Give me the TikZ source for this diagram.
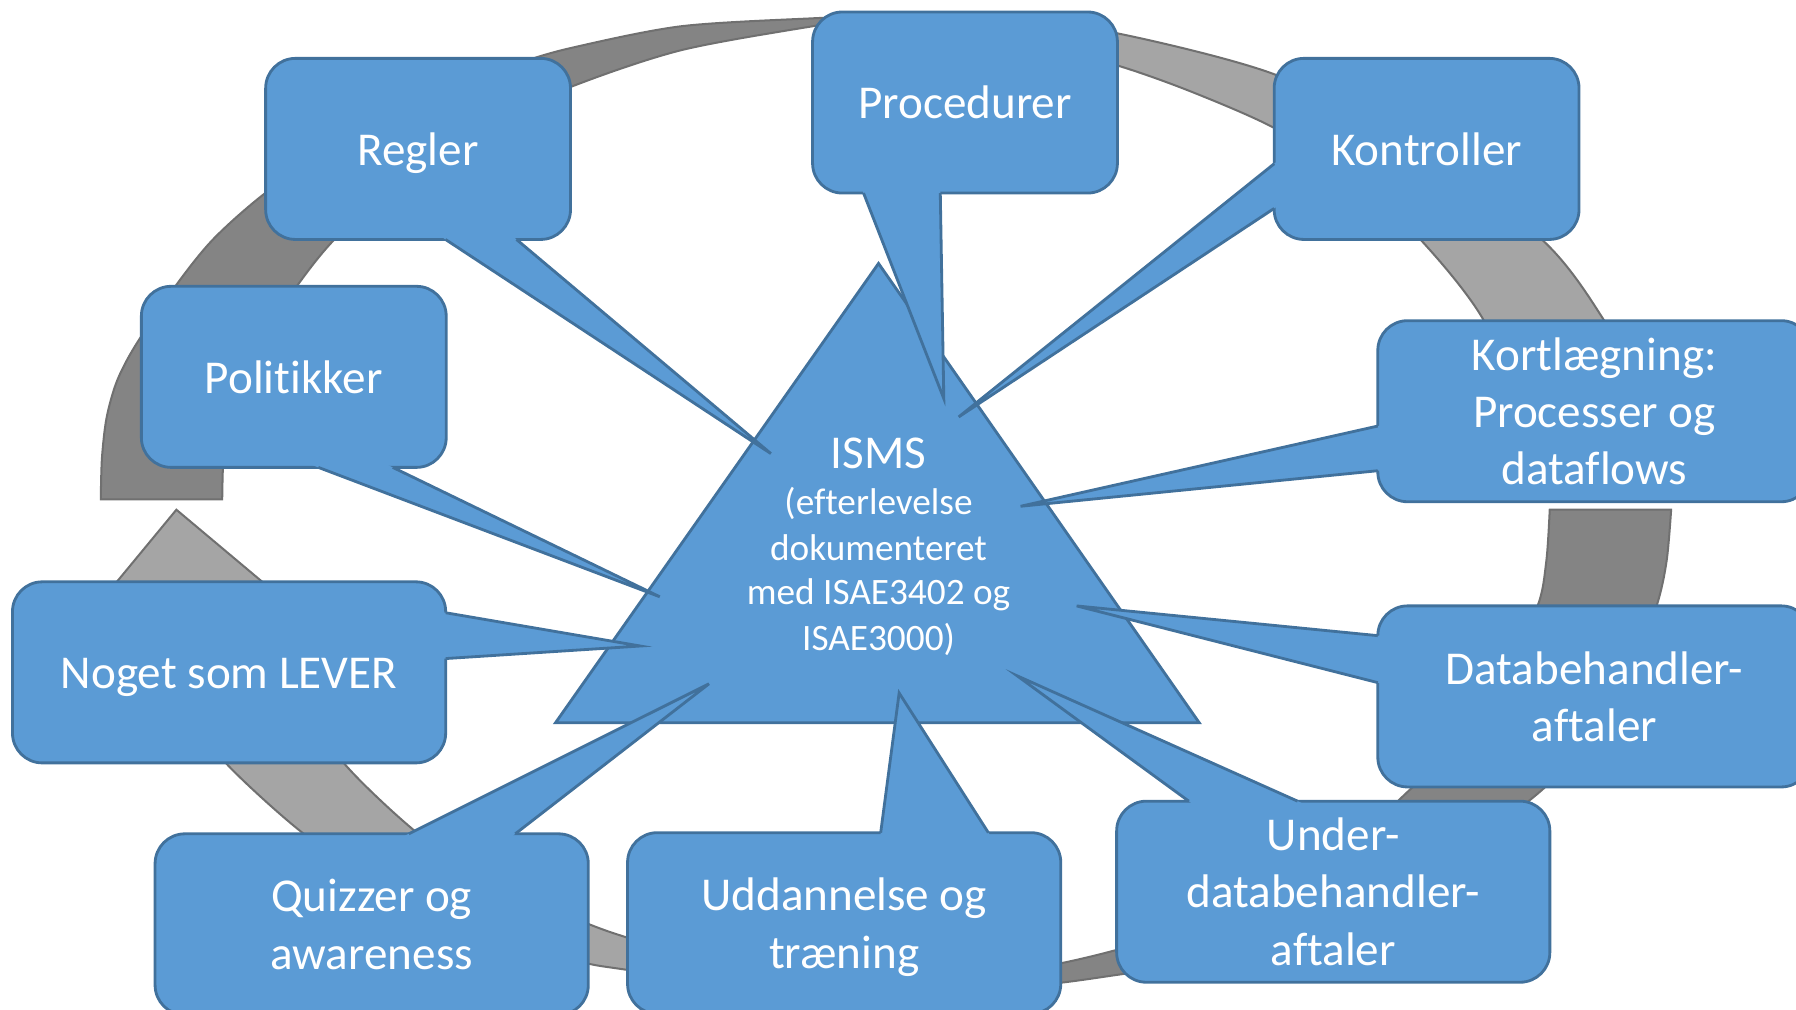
\documentclass[tikz,border=0pt]{standalone}
\usepackage{fontspec}
\setmainfont{Carlito}[Ligatures=NoCommon]
\usetikzlibrary{calc}
\definecolor{bfillc}{RGB}{91,155,213}
\definecolor{blinec}{RGB}{65,113,156}
\definecolor{darkarc}{RGB}{132,132,132}
\definecolor{lightarc}{RGB}{165,165,165}
\definecolor{arcline}{RGB}{112,112,112}
\newcommand{\bs}{\rule[-3.07pt]{0pt}{14.2pt}}
\newcommand{\calltail}[3]{%
  \fill[tailfill] (#3) -- ($(#1)!-2pt!(#3)$) -- ($(#2)!-2pt!(#3)$) -- cycle;
  \draw[tailline] (#1) -- (#3) -- (#2);}
\begin{document}
\begin{tikzpicture}[x=0.01cm, y=-0.01cm,
  box/.style={draw=blinec, fill=bfillc, line width=0.7pt, rounded corners=0.26cm,
    inner sep=0pt, outer sep=0pt, align=center, text=white,
    font=\fontsize{11.7pt}{14.2pt}\selectfont},
  smallbox/.style={box, minimum width=2.66cm, minimum height=1.58cm},
  bigbox/.style={box, minimum width=3.78cm, minimum height=1.58cm},
  tailfill/.style={fill=bfillc},
  tailline/.style={draw=blinec, line width=0.7pt},
  darkband/.style={fill=darkarc, draw=arcline, line width=0.5pt},
  lightband/.style={fill=lightarc, draw=arcline, line width=0.5pt},
  bigtxt/.style={text=white, inner sep=0pt, anchor=base, font=\fontsize{11.7pt}{14.2pt}\selectfont},
  smalltxt/.style={text=white, inner sep=0pt, anchor=base, font=\fontsize{9.25pt}{11.1pt}\selectfont},
]
\useasboundingbox (0,0) rectangle (1568,881);
\clip (0,0) rectangle (1568,881);

% ---- cycle bands ----
\filldraw[darkband] plot[smooth] coordinates {(88,436) (89,400) (93,365) (102,333) (118,302) (153,250) (186,209) (231,169) (300,120) (380,80) (450,56) (498,42) (594,23) (709,16) (775,14)}
  -- plot[smooth] coordinates {(775,14) (709,23) (594,44) (498,76) (420,112) (350,155) (292,209) (259,250) (224,302) (208,333) (199,365) (195,400) (194,436)} -- cycle;
\filldraw[lightband] plot[smooth] coordinates {(770,14) (830,17) (900,22) (975,29) (1113,65) (1230,125) (1346,209) (1400,279) (1430,340) (1446,395) (1451,425)}
  -- plot[smooth] coordinates {(1345,425) (1332,370) (1295,279) (1240,209) (1180,155) (1113,112) (1040,80) (975,57) (900,38) (830,22) (770,14)} -- cycle;
\filldraw[darkband] plot[smooth] coordinates {(1459,445) (1455,490) (1446,530) (1420,600) (1385,650) (1340,695) (1270,745) (1190,790) (1100,825) (1030,843) (976,851) (926,858) (850,866) (770,870)}
  -- plot[smooth] coordinates {(770,870) (850,855) (926,841) (976,829) (1040,810) (1110,780) (1170,745) (1225,695) (1270,650) (1310,590) (1342,530) (1350,490) (1353,445)} -- cycle;
\filldraw[lightband] plot[smooth] coordinates {(740,872) (650,863) (549,847) (512,841) (450,825) (390,801) (330,770) (264,727) (197,666) (160,615) (140,560)}
  -- (59,560) -- (154,445) -- (291,560)
  -- plot[smooth] coordinates {(245,560) (265,610) (300,666) (364,727) (430,772) (512,806) (549,819) (620,840) (690,858) (740,872)} -- cycle;

% ---- central triangle ----
\coordinate (triA) at (767,230);
\coordinate (triB) at (485,631);
\coordinate (triC) at (1047,631);
\filldraw[fill=bfillc, draw=blinec, line width=0.7pt] (triA) -- (triB) -- (triC) -- cycle;

% ---- callouts ----
\node[smallbox] (regler) at (365,130) {\bs Regler};
\coordinate (reglerA) at ($(regler.south west)+(157,0)$);
\coordinate (reglerB) at ($(regler.south west)+(219,0)$);
\coordinate (reglerT) at (673,396);
\calltail{reglerA}{reglerB}{reglerT}

\node[smallbox] (proc) at (842.5,89.5) {\bs Procedurer};
\coordinate (procA) at ($(proc.south west)+(44.5,0)$);
\coordinate (procB) at ($(proc.south west)+(111.5,0)$);
\coordinate (procT) at (824,348);
\calltail{procA}{procB}{procT}

\node[smallbox] (kont) at (1245.5,130) {\bs Kontroller};
\coordinate (kontA) at ($(kont.north west)+(0,92)$);
\coordinate (kontB) at ($(kont.north west)+(0,131)$);
\coordinate (kontT) at (837,364);
\calltail{kontA}{kontB}{kontT}

\node[smallbox] (poli) at (256.5,329) {\bs Politikker};
\coordinate (poliA) at ($(poli.south west)+(154.5,0)$);
\coordinate (poliB) at ($(poli.south west)+(219.5,0)$);
\coordinate (poliT) at (576,521);
\calltail{poliA}{poliB}{poliT}

\node[bigbox] (kort) at (1392,359) {\bs Kortlægning:\\\bs Processer og\\\bs dataflows};
\coordinate (kortA) at ($(kort.north west)+(0,92)$);
\coordinate (kortB) at ($(kort.north west)+(0,131)$);
\coordinate (kortT) at (891,442);
\calltail{kortA}{kortB}{kortT}

\node[bigbox] (data) at (1392,608) {\bs Databehandler-\\\bs aftaler};
\coordinate (dataA) at ($(data.north west)+(0,26)$);
\coordinate (dataB) at ($(data.north west)+(0,67)$);
\coordinate (dataT) at (940,529);
\calltail{dataA}{dataB}{dataT}

\node[bigbox] (under) at (1164,778.5) {\bs Under-\\\bs databehandler-\\\bs aftaler};
\coordinate (underA) at ($(under.north west)+(63,0)$);
\coordinate (underB) at ($(under.north west)+(158,0)$);
\coordinate (underT) at (888,590);
\calltail{underA}{underB}{underT}

\node[bigbox] (udd) at (737,806) {\bs Uddannelse og\\\bs træning};
\coordinate (uddA) at ($(udd.north west)+(221,0)$);
\coordinate (uddB) at ($(udd.north west)+(315,0)$);
\coordinate (uddT) at (785,605);
\calltail{uddA}{uddB}{uddT}

\node[bigbox] (quiz) at (324.5,807) {\bs Quizzer og\\\bs awareness};
\coordinate (quizA) at ($(quiz.north west)+(221.5,0)$);
\coordinate (quizB) at ($(quiz.north west)+(314.5,0)$);
\coordinate (quizT) at (619,597);
\calltail{quizA}{quizB}{quizT}

\node[bigbox] (noget) at (200,587) {\bs Noget som LEVER};
\coordinate (nogetA) at ($(noget.north east)+(0,27)$);
\coordinate (nogetB) at ($(noget.north east)+(0,67)$);
\coordinate (nogetT) at (559,564);
\calltail{nogetA}{nogetB}{nogetT}

% ---- triangle text ----
\node[bigtxt] (isms1) at (767,409) {ISMS};
\node[smalltxt] (isms2) at (767,449.6) {(efterlevelse};
\node[smalltxt] (isms3) at (767,489) {dokumenteret};
\node[smalltxt] (isms4) at (767,528) {med ISAE3402 og};
\node[smalltxt] (isms5) at (767,567.5) {ISAE3000)};
\end{tikzpicture}
\end{document}
